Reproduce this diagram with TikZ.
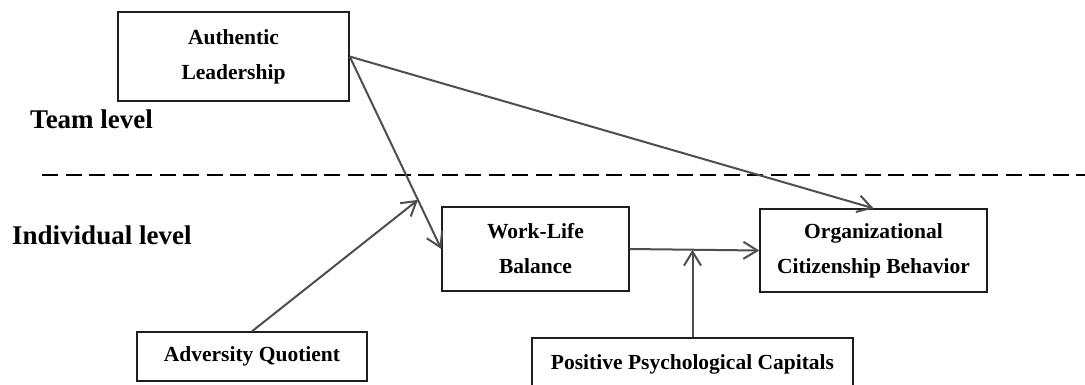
\documentclass[tikz,border=0pt]{standalone}
\usepackage{fontspec}
\setmainfont{Liberation Serif}
\usetikzlibrary{arrows.meta,calc}
\definecolor{arrowgray}{HTML}{4E4E4E}
\definecolor{boxline}{HTML}{1E1E1E}
\begin{document}
\begin{tikzpicture}[x=1bp,y=-1bp,
  varbox/.style={draw=boxline, line width=1.4bp, inner sep=0pt, align=center,
    font=\fontsize{21.5bp}{35bp}\selectfont\bfseries},
  levellabel/.style={anchor=west, inner sep=0pt, font=\fontsize{27bp}{30bp}\selectfont\bfseries},
  conn/.style={draw=arrowgray, line width=2bp, -{Straight Barb[length=14bp,width=17bp,line width=2bp]}},
  plainconn/.style={draw=arrowgray, line width=2bp}
]
\useasboundingbox (0,0) rectangle (1085,384);
\fill[white] (0,0) rectangle (1085,384);

\node[varbox, minimum width=231bp, minimum height=89bp] (al) at (233.5,56.5) {Authentic\\Leadership};
\node[varbox, minimum width=187bp, minimum height=84bp] (wlb) at (535.5,249) {Work-Life\\Balance};
\node[varbox, minimum width=227bp, minimum height=83bp] (ocb) at (873.5,250.5) {Organizational\\Citizenship Behavior};
\node[varbox, minimum width=230bp, minimum height=49bp] (aq) at (252,356.5) {Adversity Quotient};
\node[varbox, minimum width=321bp, minimum height=52bp] (ppc) at (692.5,364) {Positive Psychological Capitals};

\node[levellabel] (team) at (30,119) {Team level};
\node[levellabel] (indiv) at (12,235) {Individual level};

\coordinate (dashL) at (42,175);
\coordinate (dashR) at (1085,175);
\draw[black, line width=2bp, dash pattern=on 16bp off 7.5bp] (dashL) -- (dashR);

\coordinate (m1) at ($(al.east)!0.745!(wlb.west)$);
\coordinate (m2) at ($(wlb.east)!0.48!(ocb.west)$);

\draw[conn] (al.east) -- (wlb.west);
\draw[conn] (al.east) -- (ocb.north);
\draw[conn] (aq.north) -- (m1);
\draw[conn] (wlb.east) -- (ocb.west);
\draw[conn] (ppc.north) -- (ppc.north |- m2);
\end{tikzpicture}
\end{document}
